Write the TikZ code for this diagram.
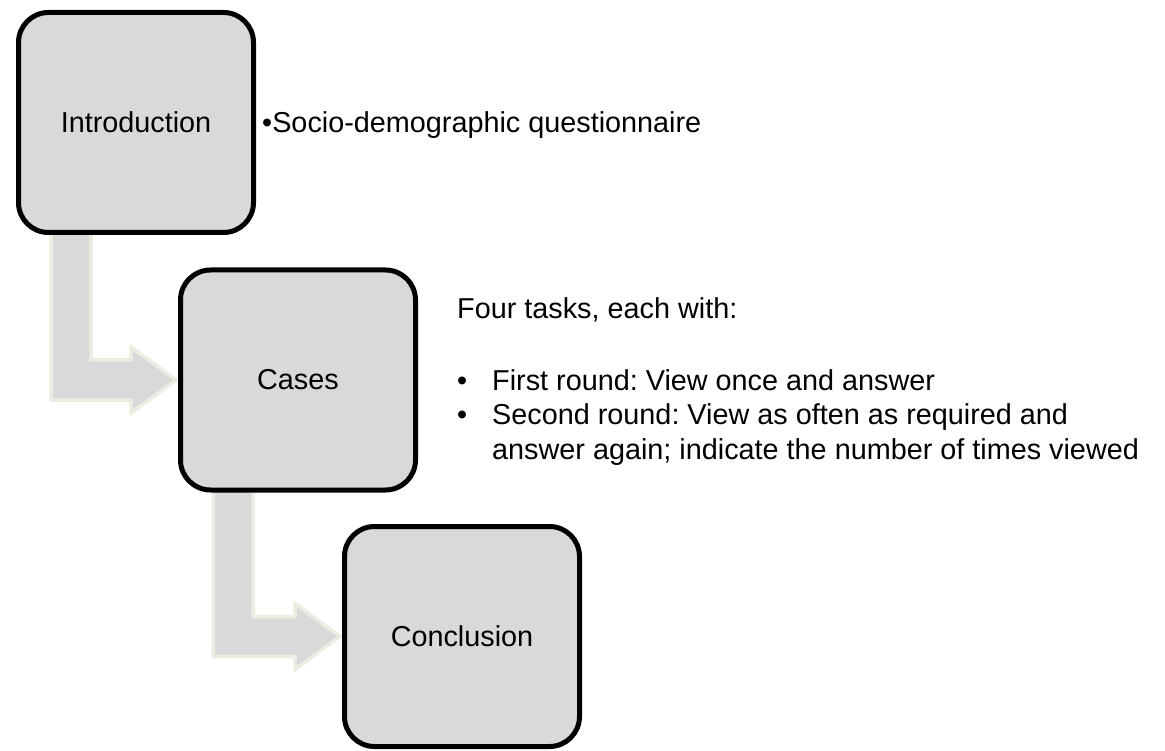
\documentclass[tikz,border=0pt]{standalone}
\usepackage{fontspec}
\setmainfont{Liberation Sans}
\usetikzlibrary{positioning,calc,backgrounds}
\definecolor{boxGray}{HTML}{D9D9D9}
\definecolor{flowTan}{HTML}{EEECE1}

\begin{document}
\begin{tikzpicture}[x=1pt,y=1pt,
		stageBox/.style={draw,line width=5pt,fill=boxGray,rounded corners=30pt,minimum width=235pt,minimum height=220pt,inner sep=0pt,font=\fontsize{28.8}{35}\selectfont},
		noteText/.style={inner sep=0pt,font=\fontsize{28.8}{35}\selectfont},
		listText/.style={inner sep=0pt,align=left,font=\fontsize{28.8}{35}\selectfont\frenchspacing},
		flowArrow/.style={fill=boxGray,draw=flowTan,line width=3.5pt,line join=miter}]
	\useasboundingbox (0,0) rectangle (1165,-751);

	\node [stageBox] (intro) at (136,-122.5) {Introduction};
	\node [stageBox] (cases) at (298,-380) {Cases};
	\node [stageBox] (concl) at (462,-636.5) {Conclusion};

	\begin{scope}[on background layer]
		\foreach \src/\dst in {intro/cases,cases/concl}
			\draw [flowArrow] let \p1=(\src.south west), \p2=(\dst.west) in
				(\x1+35,\y1+4) -- (\x1+35,\y2-20) -- (\x2-47,\y2-20) -- (\x2-47,\y2-33)
				-- (\x2-2,\y2) -- (\x2-47,\y2+33) -- (\x2-47,\y2+20)
				-- (\x1+75,\y2+20) -- (\x1+75,\y1+4) -- cycle;
	\end{scope}

	\node [noteText, anchor=base west] (demo) at ([xshift=6pt]intro.east |- 0,-133) {\textbullet Socio-demographic questionnaire};

	\node [listText, anchor=base west] (tasks) at ([xshift=39pt]cases.east |- 0,-319) {Four tasks, each with:};
	\node [listText, anchor=base west] (steps) at (tasks.base west |- 0,-390) {%
		\begin{tabular}[t]{@{}p{35pt}@{}l@{}}
			\textbullet & First round: View once and answer\\
			\textbullet & Second round: View as often as required and\\
			            & answer again; indicate the number of times viewed
		\end{tabular}};
\end{tikzpicture}
\end{document}
